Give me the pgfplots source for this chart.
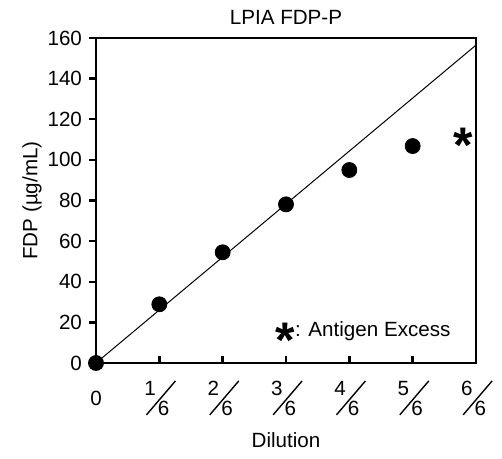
\documentclass[border=0pt]{standalone}
\usepackage{fontspec}
\setmainfont{Liberation Sans}
\usepackage{graphicx}
\usepackage{pgfplots}
\pgfplotsset{compat=1.18}
\newcommand{\fr}[1]{\makebox[15pt][l]{\rlap{\raisebox{10pt}{#1}}\rlap{\hspace{0.8pt}\rotatebox{49.5}{\rule{22.3pt}{0.7pt}}}\hspace{6.8pt}6}}
\newcommand{\fs}{\fontsize{10.3}{12}\selectfont}
\begin{document}
\begin{tikzpicture}
\begin{axis}[
 scale only axis, width=190pt, height=162.5pt,
 xmin=0, xmax=6, ymin=0, ymax=160,
 xtick={0,1,2,3,4,5,6},
 xticklabels={0,\fr{1},\fr{2},\fr{3},\fr{4},\fr{5},\fr{6}},
 ytick={0,20,...,160},
 xtick pos=bottom, ytick pos=left,
 xtick align=inside, ytick align=outside,
 major tick length=3.5pt,
 axis line style={line width=1.2pt},
 every tick/.style={black, line width=1.2pt},
 tick label style={font=\fs},
 label style={font=\fs},
 xticklabel style={anchor=center, yshift=-17.5pt},
 title={LPIA FDP-P},
 every axis title shift=0pt,
 title style={at={(axis description cs:0.5,1.0631)}, anchor=center, font=\fs},
 xlabel={Dilution},
 xlabel style={at={(axis description cs:0.5,-0.2369)}, anchor=center},
 ylabel={FDP (µg/mL)},
 ylabel style={at={(axis description cs:-0.1684,0.5)}, anchor=center},
 clip=false,
 /pgf/number format/assume math mode=true,
]
\addplot[black, line width=0.5pt] coordinates {(0,0) (6,156.5)};
\addplot[only marks, mark=*, mark size=3.75pt, black] coordinates {(0,0) (1,28.9) (2,54.5) (3,78.1) (4,95) (5,106.8)};
\addplot[only marks, mark=none, nodes near coords={\fontsize{25}{25}\selectfont\bfseries *}, every node near coord/.style={anchor=center, inner sep=0pt, yshift=-4pt}] coordinates {(5.8,111.1)};
\node[anchor=base west, inner sep=0pt, font=\fs] at (axis cs:2.83,12.8) {\raisebox{-10.5pt}{\fontsize{25}{25}\selectfont\bfseries *}: Antigen Excess};
\coordinate (sw) at (rel axis cs:0,0);
\coordinate (ne) at (rel axis cs:1,1);
\end{axis}
\pgfresetboundingbox
\path[use as bounding box] ([shift={(-48pt,-48pt)}]sw) rectangle ([shift={(13pt,19pt)}]ne);
\end{tikzpicture}
\end{document}
